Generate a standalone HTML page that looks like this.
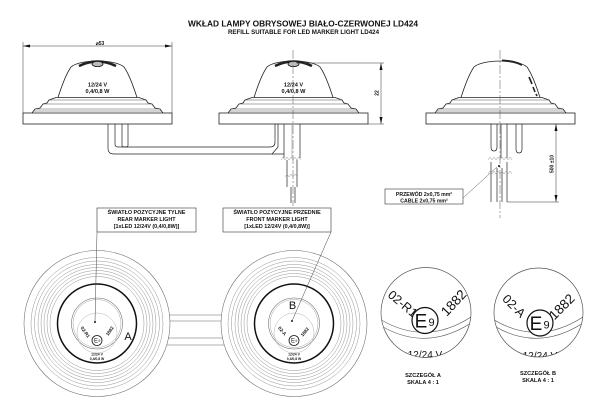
<!DOCTYPE html>
<html><head><meta charset="utf-8">
<style>
html,body{margin:0;padding:0;background:#fff;}
svg{display:block;}
text{font-family:"Liberation Sans",sans-serif;fill:#111;}
.b{font-weight:bold;}
</style></head><body>
<svg width="600" height="410" viewBox="0 0 600 410" xmlns="http://www.w3.org/2000/svg">
<defs>
 <g id="lampbase">
  <rect x="23" y="113" width="149" height="11" fill="none" stroke="#222" stroke-width="0.8"/>
  <path d="M32 113 L35 109 L40 108 L43 104 L47 103 L49 100 L56 97.5 H139 L146 100 L148 103 L152 104 L155 108 L160 109 L163 113" fill="none" stroke="#222" stroke-width="0.8"/>
  <path d="M49 100 H146 M43 104 H152 M35 109 H160 M34 111 H161" stroke="#555" stroke-width="0.5"/>
  <path d="M58 97.5 C62 85 66 74 71 67 C80 59 115 59 124 67 C129 74 133 85 137 97.5" fill="none" stroke="#222" stroke-width="0.8"/>
 </g>
 <g id="rings">
  <circle r="73" fill="none" stroke="#666" stroke-width="0.55"/>
  <circle r="66" fill="none" stroke="#888" stroke-width="0.45"/>
  <circle r="62.5" fill="none" stroke="#888" stroke-width="0.45"/>
  <circle r="59" fill="none" stroke="#888" stroke-width="0.45"/>
  <circle r="56" fill="none" stroke="#888" stroke-width="0.45"/>
  <circle r="53" fill="none" stroke="#888" stroke-width="0.45"/>
  <circle r="50" fill="none" stroke="#888" stroke-width="0.45"/>
  <circle r="47" fill="none" stroke="#888" stroke-width="0.45"/>
  <circle r="39.5" fill="none" stroke="#111" stroke-width="1.5"/>
  <circle r="25.5" fill="none" stroke="#666" stroke-width="0.55"/>
  <circle r="24" fill="none" stroke="#999" stroke-width="0.45"/>
  <circle cy="9.5" r="20" fill="none" stroke="#aaa" stroke-width="0.45"/>
  <circle cx="0" cy="17" r="5" fill="#fff" stroke="#111" stroke-width="0.8"/>
  <text x="-1" y="19.2" font-size="6" text-anchor="middle" fill="#555">E</text>
  <text x="2.3" y="18.5" font-size="3.5" text-anchor="middle">9</text>
  <text x="0" y="32" font-size="3.4" text-anchor="middle" class="b">12/24 V</text>
  <text x="0" y="36.5" font-size="3.4" text-anchor="middle" class="b">0,4/0,8 W</text>
 </g>
 <clipPath id="cA"><circle cx="426" cy="312.5" r="45"/></clipPath>
 <clipPath id="cB"><circle cx="538.5" cy="312.5" r="44.5"/></clipPath>
</defs>

<!-- Title -->
<text x="303" y="26.5" font-size="8.6" text-anchor="middle" class="b" textLength="230" lengthAdjust="spacingAndGlyphs">WKŁAD LAMPY OBRYSOWEJ BIAŁO-CZERWONEJ LD424</text>
<text x="303.5" y="33.8" font-size="6.2" text-anchor="middle" class="b" textLength="151" lengthAdjust="spacingAndGlyphs">REFILL SUITABLE FOR LED MARKER LIGHT LD424</text>

<!-- Lamps front views -->
<use href="#lampbase"/>
<use href="#lampbase" transform="translate(196,0)"/>
<use href="#lampbase" transform="translate(403,0)"/>

<g>
 <path d="M79 66 Q97.5 57 116 66" fill="none" stroke="#222" stroke-width="2.6"/>
 <ellipse cx="97.5" cy="64" rx="5.5" ry="2.6" fill="#bbb" stroke="#111" stroke-width="0.8"/>
</g>
<g transform="translate(196,0)">
 <path d="M79 66 Q97.5 57 116 66" fill="none" stroke="#222" stroke-width="2.6"/>
 <ellipse cx="97.5" cy="64" rx="5.5" ry="2.6" fill="#bbb" stroke="#111" stroke-width="0.8"/>
</g>
<path d="M502 60.5 Q515 61 522 65" fill="none" stroke="#222" stroke-width="2"/>
<path d="M529 77 L532 84 M533 87 L535 92 M536 94 L537 96" stroke="#222" stroke-width="1.6"/>

<text x="97.5" y="86.5" font-size="5.6" text-anchor="middle" class="b">12/24 V</text>
<text x="97.5" y="93" font-size="5.6" text-anchor="middle" class="b">0,4/0,8 W</text>
<text x="293.5" y="86.5" font-size="5.6" text-anchor="middle" class="b">12/24 V</text>
<text x="293.5" y="93" font-size="5.6" text-anchor="middle" class="b">0,4/0,8 W</text>

<!-- Dimension Ø53 -->
<g stroke="#333" stroke-width="0.5">
 <path d="M23 42 V113 M172 42 V113"/>
 <path d="M23 46 H172"/>
</g>
<polygon points="23,46 30,44.5 30,47.5" fill="#111"/>
<polygon points="172,46 165,44.5 165,47.5" fill="#111"/>
<text x="100" y="45" font-size="5" text-anchor="middle" class="b">⌀53</text>

<!-- Dimension 22 -->
<g stroke="#333" stroke-width="0.5">
 <path d="M296 63 H384 M368 124 H384 M381 63 V124"/>
</g>
<polygon points="381,63 379.5,70 382.5,70" fill="#111"/>
<polygon points="381,124 379.5,117 382.5,117" fill="#111"/>
<text transform="translate(378.5,93) rotate(-90)" font-size="5" text-anchor="middle" class="b">22</text>

<!-- Dimension 500 ±10 -->
<g stroke="#333" stroke-width="0.5">
 <path d="M556 124 V202 M507 202 H559"/>
</g>
<polygon points="556,124 554.5,131 557.5,131" fill="#111"/>
<polygon points="556,202 554.5,195 557.5,195" fill="#111"/>
<text transform="translate(553.5,164) rotate(-90)" font-size="5" text-anchor="middle" class="b">500 ±10</text>

<!-- centerlines -->
<g stroke="#555" stroke-width="0.5" stroke-dasharray="9 2 2 2" fill="none">
 <path d="M293 50 V206"/>
 <path d="M500 50 V218"/>
</g>

<!-- pipes under left lamp and tube -->
<g fill="none" stroke="#222" stroke-width="0.7">
 <path d="M108 124 V148 Q108 154 114 154 H284"/>
 <path d="M115 124 V144 Q115 147 118 147 H270 Q275 147 275 142 V124"/>
 <path d="M122 124 V146 M128 124 V146 M122 146 Q125 148 128 146"/>
 <path d="M278 124 V147 M284 124 V158 M300 124 V158 M272 154 L278 147"/>
 <path d="M287 160 V187 M297 160 V187 M291 187 V203 M295 187 V203"/>
</g>
<path d="M292 124 V158" stroke="#666" stroke-width="0.4"/>
<g fill="none" stroke="#999" stroke-width="0.5">
 <path d="M281 160 l2 -3 l2 3 l2 -3 l2 3 l2 -3 l2 3 l2 -3 l2 3 l2 -3 l2 3"/>
 <path d="M285 177 l2 -3 l2 3 l2 -3 l2 3 l2 -3 l2 3"/>
</g>

<!-- pins under right lamp -->
<g fill="none" stroke="#222" stroke-width="0.7">
 <path d="M491 124 V147 Q491 151 494 151 Q497 151 497 147 V124"/>
 <path d="M501 124 V158 M507 124 V158"/>
 <path d="M516 124 V149 Q516 153 519 153 Q522 153 522 149 V124"/>
 <path d="M491 162 V202 M507 162 V202 M497 168 V202 M502 168 V202"/>
</g>
<g fill="none" stroke="#999" stroke-width="0.5">
 <path d="M488 160 l2 -3 l2 3 l2 -3 l2 3 l2 -3 l2 3 l2 -3 l2 3 l2 -3 l2 3 l2 -3 l2 3"/>
 <path d="M488 174 l2 -3 l2 3 l2 -3 l2 3 l2 -3 l2 3 l2 -3 l2 3 l2 -3 l2 3 l2 -3 l2 3"/>
</g>
<circle cx="499" cy="166" r="1" fill="#111"/>

<!-- cable label -->
<rect x="385" y="189" width="78" height="15" fill="#fff" stroke="#333" stroke-width="0.6"/>
<text x="424" y="195.8" font-size="5.2" text-anchor="middle" class="b">PRZEWÓD 2x0,75 mm²</text>
<text x="424" y="202.3" font-size="5.2" text-anchor="middle" class="b">CABLE 2x0,75 mm²</text>
<path d="M463 198 L497 167" stroke="#555" stroke-width="0.5"/>

<!-- top views -->
<g stroke="#666" stroke-width="0.55">
 <path d="M169.5 315 H221.5 M170 321 H221 M168 338 H223 M166.8 345 H224.2"/>
</g>
<use href="#rings" transform="translate(97,323.5)"/>
<use href="#rings" transform="translate(294,323.5)"/>
<text transform="translate(84,333) rotate(55)" font-size="4.6" text-anchor="middle" class="b">02-R1</text>
<text transform="translate(111,332) rotate(-55)" font-size="4.6" text-anchor="middle" class="b">1882</text>
<text transform="translate(281,332) rotate(50)" font-size="4.6" text-anchor="middle" class="b">02-A</text>
<text transform="translate(306,333) rotate(-50)" font-size="4.6" text-anchor="middle" class="b">1882</text>
<circle cx="95" cy="322" r="1" fill="#111"/>
<circle cx="292" cy="321" r="1" fill="#111"/>
<text x="128" y="340" font-size="11" text-anchor="middle">A</text>
<text x="292.5" y="309" font-size="11" text-anchor="middle">B</text>

<!-- label boxes -->
<rect x="97" y="208" width="99" height="24" fill="#fff" stroke="#333" stroke-width="0.6"/>
<text x="146.5" y="214" font-size="5.4" text-anchor="middle" class="b">ŚWIATŁO POZYCYJNE TYLNE</text>
<text x="146.5" y="221" font-size="5.4" text-anchor="middle" class="b">REAR MARKER LIGHT</text>
<text x="146.5" y="228.2" font-size="5.4" text-anchor="middle" class="b">[1xLED 12/24V (0,4/0,8W)]</text>
<rect x="223" y="208" width="108" height="24" fill="#fff" stroke="#333" stroke-width="0.6"/>
<text x="277" y="214" font-size="5.4" text-anchor="middle" class="b">ŚWIATŁO POZYCYJNE PRZEDNIE</text>
<text x="277" y="221" font-size="5.4" text-anchor="middle" class="b">FRONT MARKER LIGHT</text>
<text x="277" y="228.2" font-size="5.4" text-anchor="middle" class="b">[1xLED 12/24V (0,4/0,8W)]</text>
<path d="M97 232 L95 322" stroke="#444" stroke-width="0.5"/>
<path d="M331 232 L292 321" stroke="#444" stroke-width="0.5"/>

<!-- Detail A -->
<circle cx="426" cy="312.5" r="45" fill="none" stroke="#555" stroke-width="0.7"/>
<g clip-path="url(#cA)">
 <path d="M378 318 Q426 348 474 315" fill="none" stroke="#555" stroke-width="0.6"/>
 <path d="M378 324 Q426 354 474 321" fill="none" stroke="#555" stroke-width="0.6"/>
 <text x="425" y="358" font-size="10" text-anchor="middle" fill="#444">12/24 V</text>
</g>
<text transform="translate(400,307) rotate(40)" font-size="12.5" text-anchor="middle">02-R1</text>
<text transform="translate(457,306) rotate(-47)" font-size="13.5" text-anchor="middle">1882</text>
<circle cx="425" cy="320.5" r="13" fill="#fff" stroke="#111" stroke-width="1.2"/>
<text x="421" y="327.5" font-size="19" text-anchor="middle" fill="#777">E</text>
<text x="431.5" y="326" font-size="11" text-anchor="middle">9</text>

<!-- Detail B -->
<circle cx="538.5" cy="312.5" r="44.5" fill="none" stroke="#555" stroke-width="0.7"/>
<g clip-path="url(#cB)">
 <path d="M491 318 Q538 348 586 315" fill="none" stroke="#555" stroke-width="0.6"/>
 <path d="M491 324 Q538 354 586 321" fill="none" stroke="#555" stroke-width="0.6"/>
 <text x="540" y="359" font-size="10" text-anchor="middle" fill="#444">12/24 V</text>
</g>
<text transform="translate(511,309) rotate(45)" font-size="12.5" text-anchor="middle">02-A</text>
<text transform="translate(565,310) rotate(-45)" font-size="13.5" text-anchor="middle">1882</text>
<circle cx="540" cy="323" r="13" fill="#fff" stroke="#111" stroke-width="1.2"/>
<text x="536" y="330" font-size="19" text-anchor="middle" fill="#777">E</text>
<text x="546.5" y="328.5" font-size="11" text-anchor="middle">9</text>

<!-- detail captions -->
<text x="423" y="377" font-size="5.6" text-anchor="middle" class="b">SZCZEGÓŁ A</text>
<text x="423" y="384" font-size="5.6" text-anchor="middle" class="b">SKALA 4 : 1</text>
<text x="538" y="375" font-size="5.6" text-anchor="middle" class="b">SZCZEGÓŁ B</text>
<text x="538" y="382" font-size="5.6" text-anchor="middle" class="b">SKALA 4 : 1</text>
</svg>
</body></html>
